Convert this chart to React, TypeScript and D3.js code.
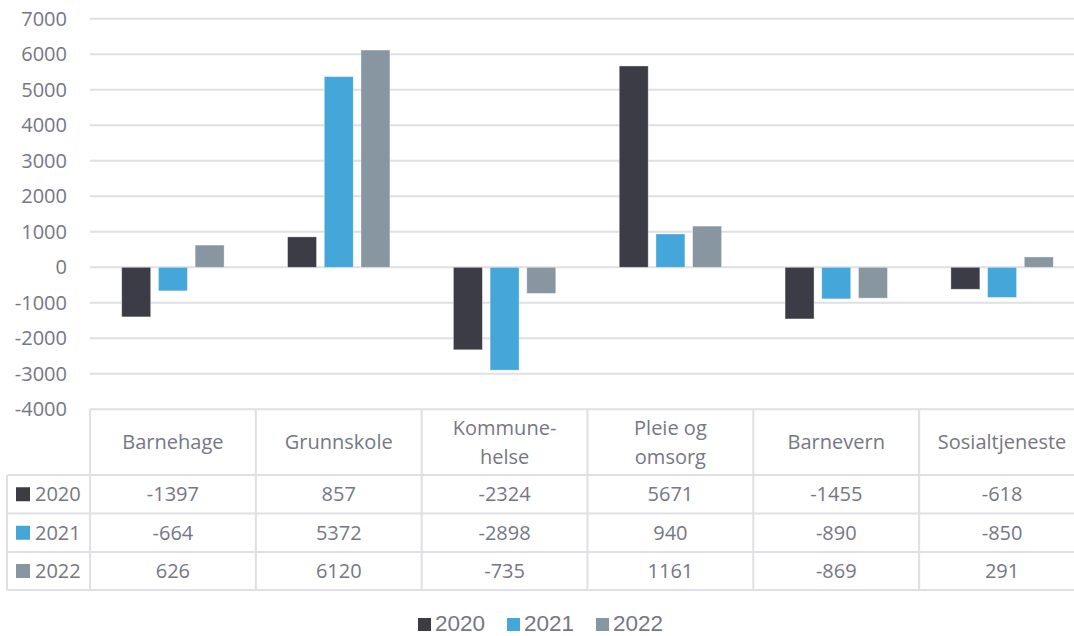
import * as d3 from 'd3';

const categories = ['Barnehage', 'Grunnskole', 'Kommune-\nhelse', 'Pleie og\nomsorg', 'Barnevern', 'Sosialtjeneste'];
const series = ['2020', '2021', '2022'];
const values2020 = [-1397, 857, -2324, 5671, -1455, -618];
const values2021 = [-664, 5372, -2898, 940, -890, -850];
const values2022 = [626, 6120, -735, 1161, -869, 291];
const yTicks = [7000, 6000, 5000, 4000, 3000, 2000, 1000, 0, -1000, -2000, -3000, -4000];
const colors = ['#3b3c45', '#44a6d9', '#8796a0'];

const allValues = [values2020, values2021, values2022];

const W = 1074;
const H = 636;
const PLOT = { LEFT: 90, RIGHT: 1085, TOP: 18.8, BOTTOM: 409.3 };
const ROWS = [409.3, 475, 513.5, 552, 590];
const TABLE_LEFT = 7;
const GRID = '#dfdfe4';
const TEXT = '#767784';
const FONT = '"Open Sans", sans-serif';

const App = () => {
  const x0 = d3.scaleBand().domain(categories).range([PLOT.LEFT, PLOT.RIGHT]);
  const y = d3.scaleLinear().domain([-4000, 7000]).range([PLOT.BOTTOM, PLOT.TOP]);
  const groupW = 102.4;
  const x1 = d3.scaleBand()
    .domain(series)
    .range([(x0.bandwidth() - groupW) / 2, (x0.bandwidth() + groupW) / 2])
    .paddingInner(0.21);

  const boundaries = categories.map((c) => x0(c)!).concat([PLOT.RIGHT]);

  return (
    <svg width={W} height={H} style={{ position: 'absolute', left: 0, top: 0, background: '#fff' }}>
      {/* grid */}
      {yTicks.slice(0, -1).map((t) => (
        <line key={t} x1={PLOT.LEFT} x2={PLOT.RIGHT} y1={y(t)} y2={y(t)} stroke={GRID} strokeWidth={2} />
      ))}
      {yTicks.map((t) => (
        <text key={'t' + t} x={67} y={y(t)} dy="0.35em" textAnchor="end" fontFamily={FONT} fontSize={20} fill={TEXT}>
          {t}
        </text>
      ))}

      {/* bars */}
      {categories.map((c, ci) => (
        <g key={c} transform={`translate(${x0(c)},0)`}>
          {series.map((s, si) => {
            const v = allValues[si][ci];
            return (
              <rect
                key={s}
                x={x1(s)}
                width={x1.bandwidth()}
                y={y(Math.max(v, 0))}
                height={Math.abs(y(v) - y(0))}
                fill={colors[si]}
                stroke="#ffffff"
                strokeOpacity={0.5}
                strokeWidth={0.75}
              />
            );
          })}
        </g>
      ))}

      {/* data table */}
      {ROWS.map((r, i) => (
        <line key={'r' + i} x1={i === 0 ? PLOT.LEFT : TABLE_LEFT} x2={PLOT.RIGHT} y1={r} y2={r} stroke={GRID} strokeWidth={2} />
      ))}
      <line x1={TABLE_LEFT} x2={TABLE_LEFT} y1={ROWS[1]} y2={ROWS[4]} stroke={GRID} strokeWidth={2} />
      {boundaries.map((b, i) => (
        <line key={'b' + i} x1={b} x2={b} y1={ROWS[0]} y2={ROWS[4]} stroke={GRID} strokeWidth={2} />
      ))}
      {categories.map((c) => {
        const lines = c.split('\n');
        const cy = (ROWS[0] + ROWS[1]) / 2;
        return (
          <text key={'h' + c} textAnchor="middle" fontFamily={FONT} fontSize={20} fill={TEXT}>
            {lines.map((l, li) => (
              <tspan key={li} x={x0(c)! + x0.bandwidth() / 2} y={cy + (li - (lines.length - 1) / 2) * 29} dy="0.35em">
                {l}
              </tspan>
            ))}
          </text>
        );
      })}
      {series.map((s, si) => {
        const cy = (ROWS[si + 1] + ROWS[si + 2]) / 2;
        return (
          <g key={'row' + s}>
            <rect x={16} y={cy - 7} width={14} height={14} fill={colors[si]} />
            <text x={35} y={cy} dy="0.35em" fontFamily={FONT} fontSize={20} fill={TEXT}>
              {s}
            </text>
            {categories.map((c, ci) => (
              <text key={c} x={x0(c)! + x0.bandwidth() / 2} y={cy} dy="0.35em" textAnchor="middle" fontFamily={FONT} fontSize={20} fill={TEXT}>
                {allValues[si][ci]}
              </text>
            ))}
          </g>
        );
      })}

      {/* legend */}
      {series.map((s, si) => {
        const lx = 418 + si * 89;
        return (
          <g key={'lg' + s}>
            <rect x={lx} y={618} width={13} height={13} fill={colors[si]} />
            <text x={lx + 17} y={631} fontFamily='"Liberation Sans", Arial, sans-serif' fontSize={22.5} fill={TEXT}>
              {s}
            </text>
          </g>
        );
      })}
    </svg>
  );
};

export default App;
